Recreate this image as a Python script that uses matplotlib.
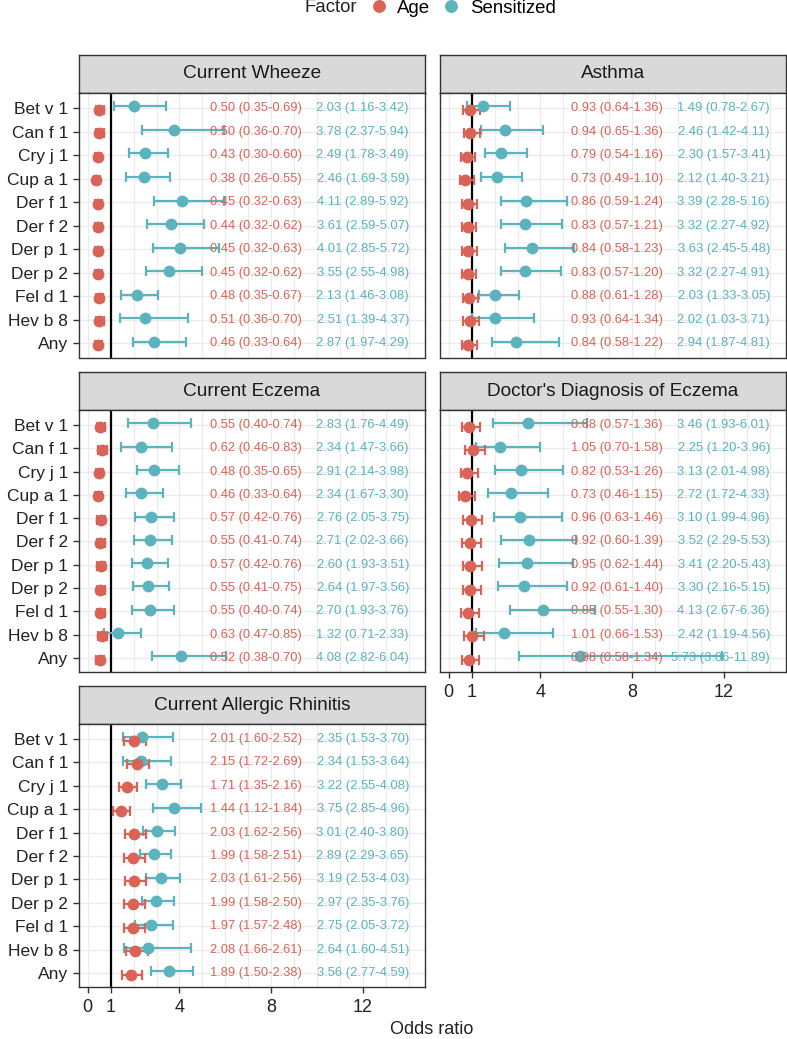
import numpy as np
import matplotlib.pyplot as plt

allergens = ["Bet v 1", "Can f 1", "Cry j 1", "Cup a 1", "Der f 1", "Der f 2",
             "Der p 1", "Der p 2", "Fel d 1", "Hev b 8", "Any"]

# (odds ratio, lower CI, upper CI) for each allergen, top to bottom
wheeze_age = [(0.50, 0.35, 0.69), (0.50, 0.36, 0.70), (0.43, 0.30, 0.60), (0.38, 0.26, 0.55),
              (0.45, 0.32, 0.63), (0.44, 0.32, 0.62), (0.45, 0.32, 0.63), (0.45, 0.32, 0.62),
              (0.48, 0.35, 0.67), (0.51, 0.36, 0.70), (0.46, 0.33, 0.64)]
wheeze_sens = [(2.03, 1.16, 3.42), (3.78, 2.37, 5.94), (2.49, 1.78, 3.49), (2.46, 1.69, 3.59),
               (4.11, 2.89, 5.92), (3.61, 2.59, 5.07), (4.01, 2.85, 5.72), (3.55, 2.55, 4.98),
               (2.13, 1.46, 3.08), (2.51, 1.39, 4.37), (2.87, 1.97, 4.29)]

asthma_age = [(0.93, 0.64, 1.36), (0.94, 0.65, 1.36), (0.79, 0.54, 1.16), (0.73, 0.49, 1.10),
              (0.86, 0.59, 1.24), (0.83, 0.57, 1.21), (0.84, 0.58, 1.23), (0.83, 0.57, 1.20),
              (0.88, 0.61, 1.28), (0.93, 0.64, 1.34), (0.84, 0.58, 1.22)]
asthma_sens = [(1.49, 0.78, 2.67), (2.46, 1.42, 4.11), (2.30, 1.57, 3.41), (2.12, 1.40, 3.21),
               (3.39, 2.28, 5.16), (3.32, 2.27, 4.92), (3.63, 2.45, 5.48), (3.32, 2.27, 4.91),
               (2.03, 1.33, 3.05), (2.02, 1.03, 3.71), (2.94, 1.87, 4.81)]

eczema_age = [(0.55, 0.40, 0.74), (0.62, 0.46, 0.83), (0.48, 0.35, 0.65), (0.46, 0.33, 0.64),
              (0.57, 0.42, 0.76), (0.55, 0.41, 0.74), (0.57, 0.42, 0.76), (0.55, 0.41, 0.75),
              (0.55, 0.40, 0.74), (0.63, 0.47, 0.85), (0.52, 0.38, 0.70)]
eczema_sens = [(2.83, 1.76, 4.49), (2.34, 1.47, 3.66), (2.91, 2.14, 3.98), (2.34, 1.67, 3.30),
               (2.76, 2.05, 3.75), (2.71, 2.02, 3.66), (2.60, 1.93, 3.51), (2.64, 1.97, 3.56),
               (2.70, 1.93, 3.76), (1.32, 0.71, 2.33), (4.08, 2.82, 6.04)]

doctor_age = [(0.88, 0.57, 1.36), (1.05, 0.70, 1.58), (0.82, 0.53, 1.26), (0.73, 0.46, 1.15),
              (0.96, 0.63, 1.46), (0.92, 0.60, 1.39), (0.95, 0.62, 1.44), (0.92, 0.61, 1.40),
              (0.85, 0.55, 1.30), (1.01, 0.66, 1.53), (0.88, 0.58, 1.34)]
doctor_sens = [(3.46, 1.93, 6.01), (2.25, 1.20, 3.96), (3.13, 2.01, 4.98), (2.72, 1.72, 4.33),
               (3.10, 1.99, 4.96), (3.52, 2.29, 5.53), (3.41, 2.20, 5.43), (3.30, 2.16, 5.15),
               (4.13, 2.67, 6.36), (2.42, 1.19, 4.56), (5.73, 3.06, 11.89)]

rhinitis_age = [(2.01, 1.60, 2.52), (2.15, 1.72, 2.69), (1.71, 1.35, 2.16), (1.44, 1.12, 1.84),
                (2.03, 1.62, 2.56), (1.99, 1.58, 2.51), (2.03, 1.61, 2.56), (1.99, 1.58, 2.50),
                (1.97, 1.57, 2.48), (2.08, 1.66, 2.61), (1.89, 1.50, 2.38)]
rhinitis_sens = [(2.35, 1.53, 3.70), (2.34, 1.53, 3.64), (3.22, 2.55, 4.08), (3.75, 2.85, 4.96),
                 (3.01, 2.40, 3.80), (2.89, 2.29, 3.65), (3.19, 2.53, 4.03), (2.97, 2.35, 3.76),
                 (2.75, 2.05, 3.72), (2.64, 1.60, 4.51), (3.56, 2.77, 4.59)]

titles = ["Current Wheeze", "Asthma", "Current Eczema",
          "Doctor's Diagnosis of Eczema", "Current Allergic Rhinitis"]
age_sets = [wheeze_age, asthma_age, eczema_age, doctor_age, rhinitis_age]
sens_sets = [wheeze_sens, asthma_sens, eczema_sens, doctor_sens, rhinitis_sens]

x_major = [0, 1, 4, 8, 12]
x_minor = [2, 3, 5, 6, 7, 9, 10, 11, 13, 14]

RED = "#DA6358"
TEAL = "#5BB3BD"
TXT = "#222222"

plt.rcParams['font.family'] = ['Liberation Sans', 'DejaVu Sans']

W, H = 787, 1039
fig = plt.figure(figsize=(W / 100, H / 100), dpi=100)


def box(x0, x1, y0, y1):
    # pixel box (y measured from top) -> figure fraction
    return [x0 / W, 1 - y1 / H, (x1 - x0) / W, (y1 - y0) / H]


cols = [(78.5, 425), (439.5, 786)]
rows = [(55, 93, 357.5), (372, 410, 672), (686, 724, 987)]
slots = [(0, 0), (0, 1), (1, 0), (1, 1), (2, 0)]
show_x = [False, False, False, True, True]

handles = None
for k in range(5):
    r, c = slots[k]
    sx0, sx1 = cols[c]
    st, pt, pb = rows[r]

    # strip
    sax = fig.add_axes(box(sx0, sx1, st, pt))
    sax.set_facecolor("#D9D9D9")
    sax.set_xticks([])
    sax.set_yticks([])
    for s in sax.spines.values():
        s.set_color("#333333")
        s.set_linewidth(1.0)
    sax.text(0.5, 0.5, titles[k], ha='center', va='center', fontsize=13.7,
             color="#1A1A1A", transform=sax.transAxes)

    ax = fig.add_axes(box(sx0, sx1, pt, pb))
    ax.set_axisbelow(True)
    y = np.arange(len(allergens))

    ax.axvline(1, color='black', lw=1.6, zorder=2)

    hs = []
    for vals, color, off in [(sens_sets[k], TEAL, -0.07), (age_sets[k], RED, 0.07)]:
        est = np.array([v[0] for v in vals])
        lo = np.array([v[1] for v in vals])
        hi = np.array([v[2] for v in vals])
        h = ax.errorbar(est, y + off, xerr=[est - lo, hi - est], fmt='o', color=color,
                        ms=7.5, capsize=3.8, elinewidth=1.6, capthick=1.6, zorder=3)
        hs.append(h)
    if handles is None:
        handles = hs

    for i in y:
        a = age_sets[k][i]
        s = sens_sets[k][i]
        ax.text(9.33, i, f"{a[0]:.2f} ({a[1]:.2f}-{a[2]:.2f})", ha='right', va='center',
                color=RED, fontsize=9.3, zorder=4)
        ax.text(14.0, i, f"{s[0]:.2f} ({s[1]:.2f}-{s[2]:.2f})", ha='right', va='center',
                color=TEAL, fontsize=9.4, zorder=4)

    ax.set_xlim(-0.4, 14.7)
    ax.set_ylim(len(allergens) - 0.4, -0.64)
    ax.set_xticks(x_major)
    ax.set_xticks(x_minor, minor=True)
    ax.set_yticks(y)
    ax.set_yticklabels(allergens)
    ax.grid(which='major', color="#EBEBEB", lw=1.0)
    ax.grid(which='minor', axis='x', color="#EBEBEB", lw=0.8)
    if c == 0:
        ax.tick_params(axis='y', labelsize=12.5, labelcolor=TXT, color="#333333",
                       length=4.5, width=1.0, pad=3)
    else:
        ax.tick_params(axis='y', length=0, labelleft=False)
    ax.tick_params(axis='x', which='minor', length=0)
    if show_x[k]:
        ax.tick_params(axis='x', which='major', labelsize=13, labelcolor=TXT,
                       color="#333333", length=4.5, width=1.0, pad=4)
    else:
        ax.tick_params(axis='x', which='major', length=0, labelbottom=False)
    for s in ax.spines.values():
        s.set_color("#333333")
        s.set_linewidth(1.0)

fig.text(432 / W, 1 - 1030 / H, "Odds ratio", ha='center', va='center',
         fontsize=13, color=TXT)

fig.text(305 / W, 1 - 8 / H, "Factor", ha='left', va='center', fontsize=13.4, color=TXT)
fig.legend([handles[1][0], handles[0][0]], ["Age", "Sensitized"], ncol=2,
           loc='center left', bbox_to_anchor=(369.5 / W, 1 - 8 / H), frameon=False,
           fontsize=13.4, handlelength=1.0, handletextpad=0.5, columnspacing=0.6,
           borderpad=0, borderaxespad=0, markerscale=1.1)

fig.savefig("out.png", dpi=100)
